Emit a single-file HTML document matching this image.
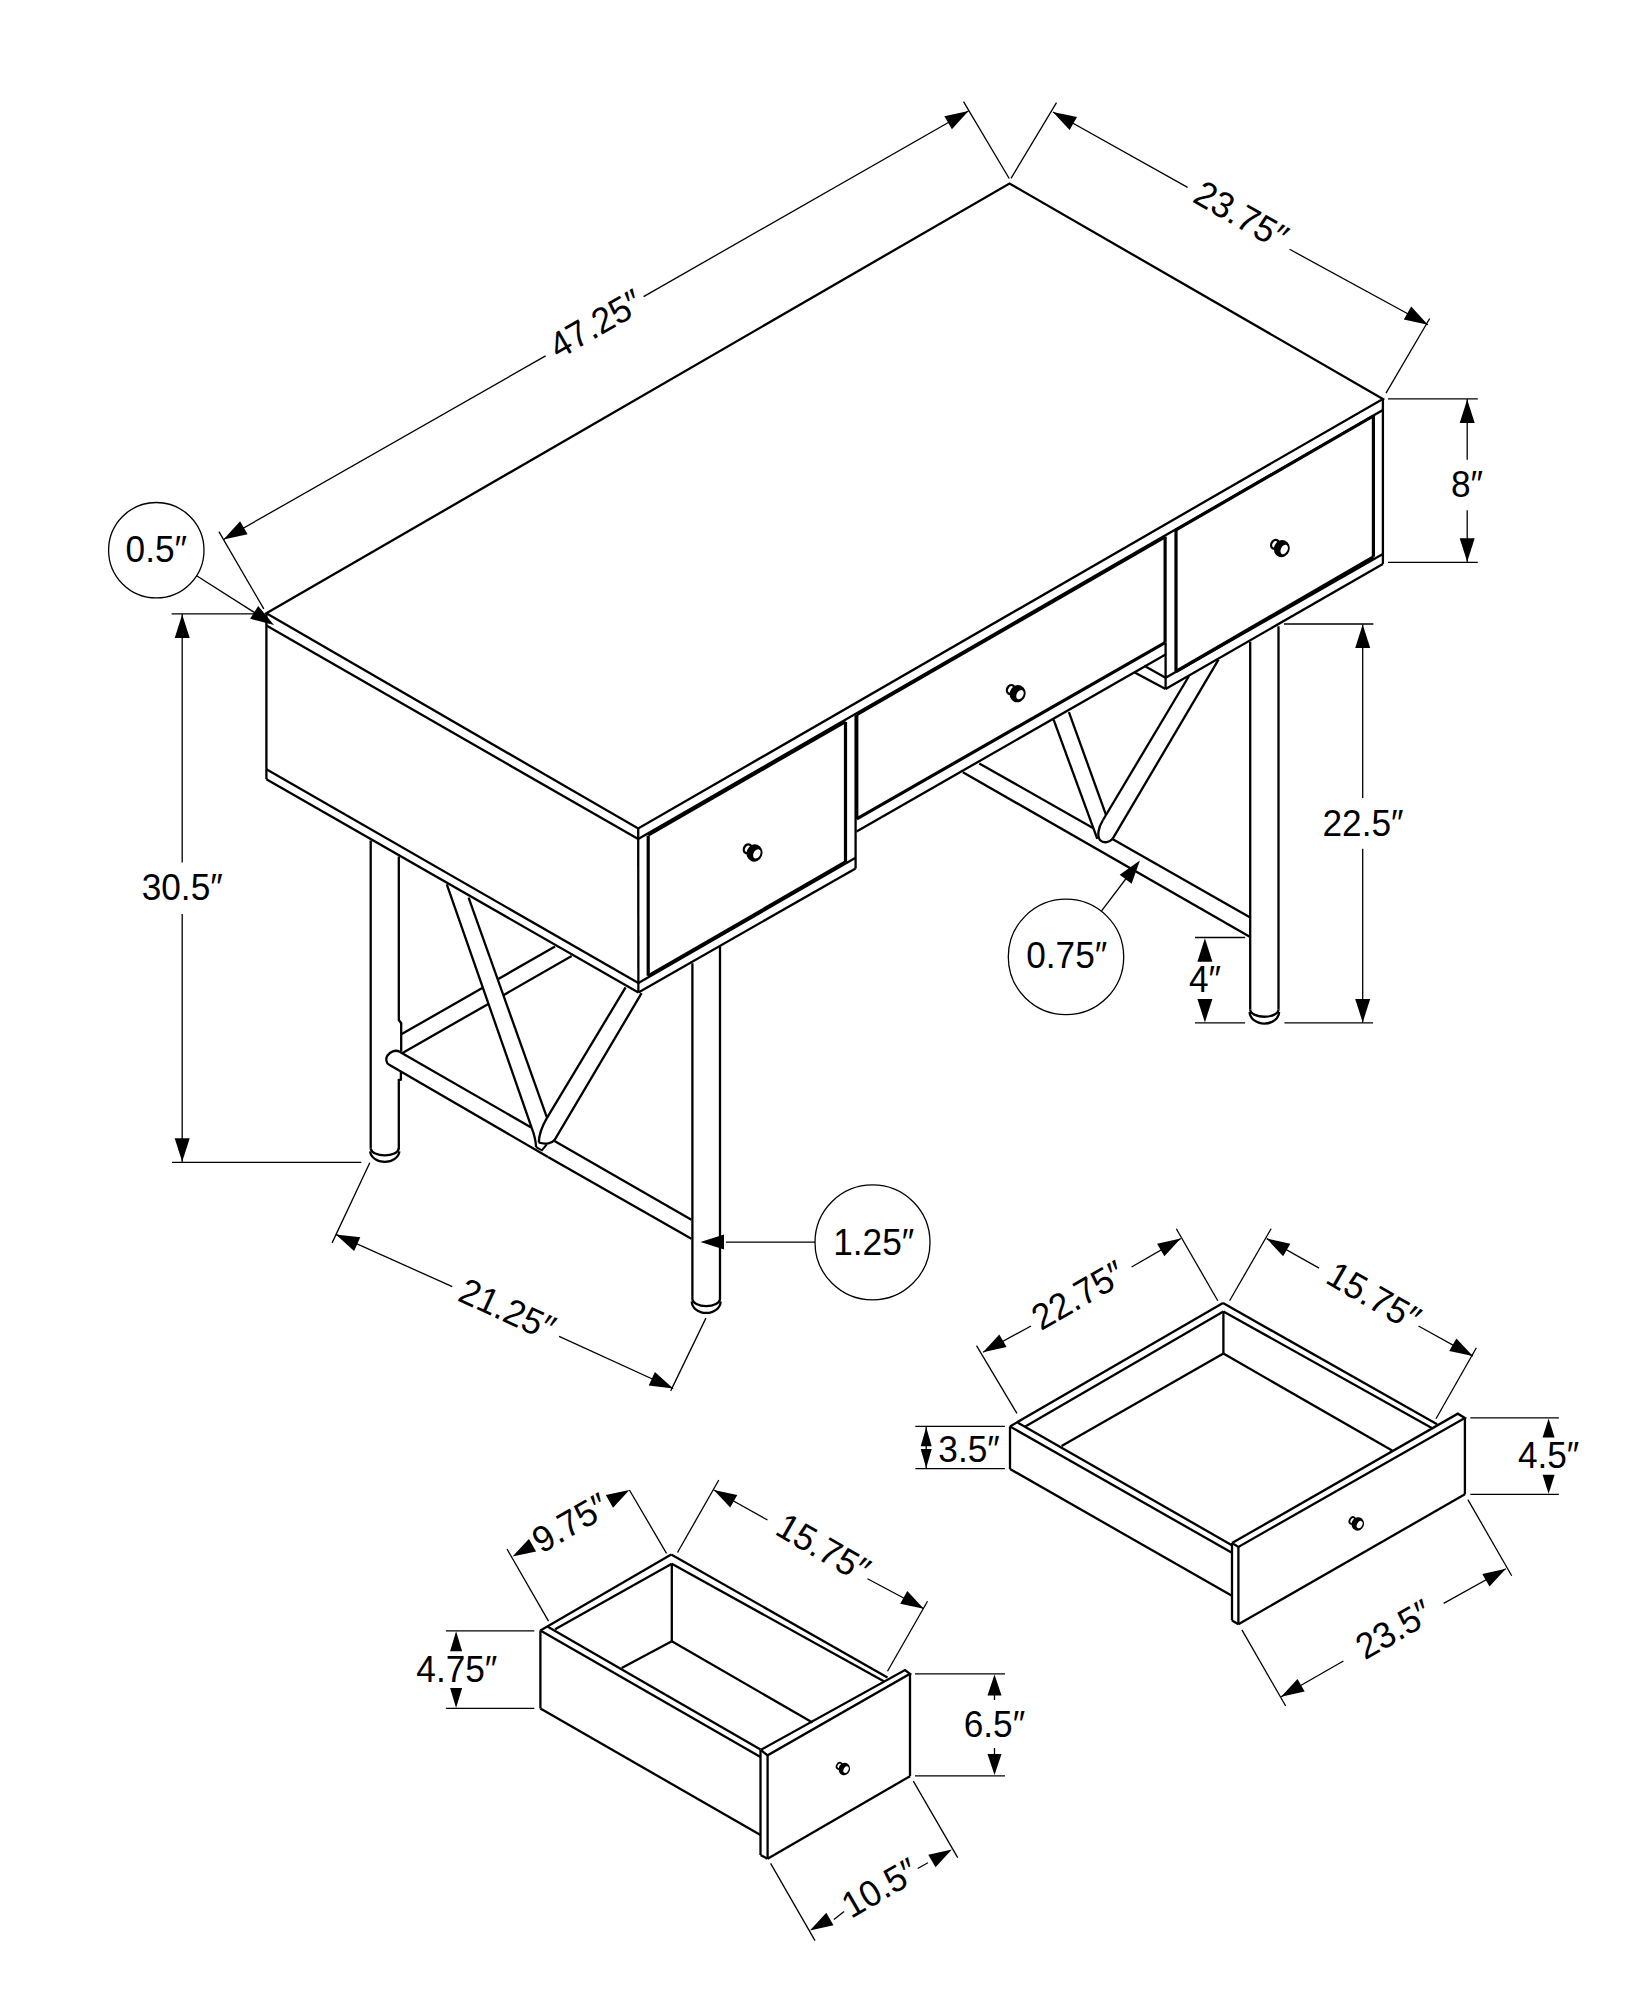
<!DOCTYPE html>
<html><head><meta charset="utf-8"><style>
html,body{margin:0;padding:0;background:#fff;}
svg{display:block;}
text{font-family:"Liberation Sans",sans-serif;fill:#000;stroke:none;}
</style></head><body>
<svg width="1648" height="2000" viewBox="0 0 1648 2000" stroke="#000" stroke-linecap="butt" stroke-linejoin="miter">
<rect width="1648" height="2000" fill="#fff" stroke="none"/>
<polygon points="266.4,613.3 1009.5,183.5 1382.9,398.9 638.2,828.5" stroke-width="2.3" fill="none"/>
<line x1="266.4" y1="613.3" x2="266.4" y2="779.2" stroke-width="2.3"/>
<line x1="266.4" y1="625.5" x2="638.2" y2="839.1" stroke-width="2.3"/>
<line x1="638.2" y1="828.5" x2="638.4" y2="992.5" stroke-width="2.3"/>
<line x1="638.2" y1="839.1" x2="1382.9" y2="410.0" stroke-width="2.3"/>
<line x1="1382.9" y1="398.9" x2="1382.9" y2="563.9" stroke-width="2.3"/>
<line x1="266.4" y1="769.2" x2="638.4" y2="983.0" stroke-width="2.3"/>
<line x1="266.4" y1="779.2" x2="638.4" y2="992.5" stroke-width="2.3"/>
<line x1="638.4" y1="983.0" x2="855.6" y2="857.8" stroke-width="2.3"/>
<line x1="638.4" y1="992.5" x2="855.6" y2="868.5" stroke-width="2.3"/>
<line x1="648.2" y1="835.6" x2="648.2" y2="975.8" stroke-width="3.2"/>
<line x1="648.2" y1="975.8" x2="845.5" y2="862.0" stroke-width="3.2"/>
<line x1="845.5" y1="722.0" x2="845.5" y2="862.0" stroke-width="3.2"/>
<line x1="648.2" y1="835.0" x2="845.5" y2="721.5" stroke-width="3.2"/>
<line x1="855.6" y1="715.6" x2="855.6" y2="868.5" stroke-width="2.3"/>
<line x1="856.8" y1="714.7" x2="856.8" y2="818.8" stroke-width="3.2"/>
<line x1="856.8" y1="818.8" x2="1165.1" y2="642.6" stroke-width="3.2"/>
<line x1="1165.1" y1="536.6" x2="1165.1" y2="642.6" stroke-width="3.2"/>
<line x1="856.8" y1="714.7" x2="1165.1" y2="537.0" stroke-width="3.0"/>
<line x1="856.6" y1="831.5" x2="1165.6" y2="654.4" stroke-width="2.3"/>
<line x1="1134.7" y1="672.5" x2="1165.6" y2="689.1" stroke-width="2.3"/>
<line x1="1144.2" y1="665.8" x2="1165.6" y2="677.7" stroke-width="2.3"/>
<line x1="1165.6" y1="642.6" x2="1165.6" y2="689.1" stroke-width="2.3"/>
<line x1="1176.0" y1="530.0" x2="1176.0" y2="671.5" stroke-width="3.2"/>
<line x1="1176.0" y1="671.5" x2="1373.4" y2="556.8" stroke-width="3.2"/>
<line x1="1373.4" y1="416.0" x2="1373.4" y2="556.8" stroke-width="3.2"/>
<line x1="1176.0" y1="530.0" x2="1373.4" y2="416.0" stroke-width="3.0"/>
<line x1="1165.6" y1="677.7" x2="1382.9" y2="554.1" stroke-width="2.3"/>
<line x1="1165.6" y1="689.1" x2="1382.9" y2="563.9" stroke-width="2.3"/>
<g transform="translate(754.5 853.0) scale(1.0)"><ellipse cx="-6.9" cy="-4.3" rx="3.5" ry="4.6" transform="rotate(30 -6.9 -4.3)" stroke-width="2.3" fill="#fff"/><ellipse cx="0" cy="0" rx="7.9" ry="8.7" transform="rotate(20)" stroke="none" fill="#000"/><ellipse cx="2.4" cy="0.9" rx="3.3" ry="5.0" transform="rotate(28 2.4 0.9)" stroke="none" fill="#fff"/></g>
<g transform="translate(1017.6 693.7) scale(1.0)"><ellipse cx="-6.9" cy="-4.3" rx="3.5" ry="4.6" transform="rotate(30 -6.9 -4.3)" stroke-width="2.3" fill="#fff"/><ellipse cx="0" cy="0" rx="7.9" ry="8.7" transform="rotate(20)" stroke="none" fill="#000"/><ellipse cx="2.4" cy="0.9" rx="3.3" ry="5.0" transform="rotate(28 2.4 0.9)" stroke="none" fill="#fff"/></g>
<g transform="translate(1281.8 548.6) scale(1.0)"><ellipse cx="-6.9" cy="-4.3" rx="3.5" ry="4.6" transform="rotate(30 -6.9 -4.3)" stroke-width="2.3" fill="#fff"/><ellipse cx="0" cy="0" rx="7.9" ry="8.7" transform="rotate(20)" stroke="none" fill="#000"/><ellipse cx="2.4" cy="0.9" rx="3.3" ry="5.0" transform="rotate(28 2.4 0.9)" stroke="none" fill="#fff"/></g>
<line x1="370.7" y1="840.4" x2="370.7" y2="1148.8" stroke-width="2.3"/>
<polyline points="398.8,1148.0 398.8,1148.8" stroke-width="2.3" fill="none"/>
<path d="M370.7,1148.8 A14.1,7.2 0 0 0 398.8,1148.8" stroke-width="2.3" fill="none"/>
<path d="M370.1,1151.3 A14.7,11.5 0 0 0 399.4,1151.3" stroke-width="2.3" fill="none"/>
<polyline points="398.8,856.4 398.8,1020.0 401.2,1023.2 401.2,1051.6" stroke-width="2.3" fill="none"/>
<polyline points="400.9,1071.0 400.9,1079.6 398.8,1080.0 398.8,1148.8" stroke-width="2.3" fill="none"/>
<line x1="692.4" y1="963.3" x2="692.4" y2="1298.9" stroke-width="2.3"/>
<line x1="720.0" y1="946.6" x2="720.0" y2="1298.9" stroke-width="2.3"/>
<path d="M692.4,1298.9 A13.8,7.2 0 0 0 720.0,1298.9" stroke-width="2.3" fill="none"/>
<path d="M691.8,1301.4 A14.4,11.5 0 0 0 720.6,1301.4" stroke-width="2.3" fill="none"/>
<line x1="1250.2" y1="641.7" x2="1250.2" y2="1009.5" stroke-width="2.3"/>
<line x1="1278.5" y1="626.2" x2="1278.5" y2="1009.5" stroke-width="2.3"/>
<path d="M1250.2,1009.5 A14.1,7.2 0 0 0 1278.5,1009.5" stroke-width="2.3" fill="none"/>
<path d="M1249.6,1012.0 A14.7,11.5 0 0 0 1279.1,1012.0" stroke-width="2.3" fill="none"/>
<line x1="401.3" y1="1034.3" x2="482.7" y2="987.8" stroke-width="2.3"/>
<line x1="497.4" y1="979.5" x2="555.0" y2="946.6" stroke-width="2.3"/>
<line x1="402.5" y1="1053.1" x2="488.3" y2="1003.9" stroke-width="2.3"/>
<line x1="503.0" y1="995.4" x2="571.7" y2="956.0" stroke-width="2.3"/>
<line x1="400.0" y1="1051.9" x2="531.2" y2="1127.5" stroke-width="2.3"/>
<line x1="554.5" y1="1140.9" x2="691.4" y2="1219.8" stroke-width="2.3"/>
<path d="M400,1051.9 C395,1049 390,1052 387.5,1055.5 C385.5,1058.5 386,1063 389.2,1064.8 L548,1157" stroke-width="2.3" fill="none"/>
<line x1="548.0" y1="1157.0" x2="691.4" y2="1238.8" stroke-width="2.3"/>
<path d="M446.8,884.3 L531.7,1127.8 Q535.6,1138 536.1,1147.1" stroke-width="2.3" fill="none"/>
<line x1="468.6" y1="897.7" x2="546.7" y2="1116.8" stroke-width="2.3"/>
<path d="M625.6,987.4 L546.7,1118.3 C541.6,1127 539,1134 538.8,1142.5" stroke-width="2.3" fill="none"/>
<path d="M641.6,993.2 L554.7,1139.8 C552.2,1143.2 545.5,1144.8 538.8,1142.5" stroke-width="2.3" fill="none"/>
<polyline points="536.1,1147.1 541.9,1150.3 546.7,1144.5" stroke-width="2.0" fill="none"/>
<line x1="979.3" y1="763.4" x2="1093.4" y2="828.3" stroke-width="2.3"/>
<line x1="1112.4" y1="839.1" x2="1250.2" y2="917.4" stroke-width="2.3"/>
<line x1="962.9" y1="772.2" x2="1250.2" y2="937.1" stroke-width="2.3"/>
<line x1="1053.6" y1="719.7" x2="1097.3" y2="838.8" stroke-width="2.3"/>
<line x1="1068.9" y1="712.1" x2="1106.0" y2="814.8" stroke-width="2.3"/>
<line x1="1189.0" y1="676.0" x2="1103.0" y2="820.0" stroke-width="2.3"/>
<line x1="1218.5" y1="659.7" x2="1112.6" y2="838.8" stroke-width="2.3"/>
<path d="M1103.0,820.0 C1098,828 1097,836 1100,840 C1104,844 1110,842 1112.6,838.8" stroke-width="2.3" fill="none"/>
<line x1="218.9" y1="531.7" x2="263.8" y2="608.9" stroke-width="1.3"/>
<line x1="963.5" y1="101.7" x2="1009.2" y2="178.5" stroke-width="1.3"/>
<line x1="223.5" y1="539.5" x2="545.6" y2="355.9" stroke-width="1.3"/>
<line x1="643.6" y1="296.6" x2="968.5" y2="111.0" stroke-width="1.3"/>
<polygon points="223.5,539.5 247.6,534.3 240.1,521.3" fill="#000" stroke="none"/>
<polygon points="968.5,111.0 944.4,116.2 951.9,129.2" fill="#000" stroke="none"/>
<text x="0" y="13.0" font-size="36.5" text-anchor="middle" transform="translate(595.5 323.5) rotate(-29.90) scale(0.965 1)">47.25″</text>
<line x1="1011.0" y1="178.3" x2="1056.5" y2="102.6" stroke-width="1.3"/>
<line x1="1386.0" y1="393.1" x2="1429.7" y2="318.5" stroke-width="1.3"/>
<line x1="1052.9" y1="112.0" x2="1187.6" y2="187.4" stroke-width="1.3"/>
<line x1="1289.6" y1="249.3" x2="1427.9" y2="324.7" stroke-width="1.3"/>
<polygon points="1052.9,112.0 1069.6,130.1 1077.0,117.1" fill="#000" stroke="none"/>
<polygon points="1427.9,324.7 1411.2,306.6 1403.8,319.6" fill="#000" stroke="none"/>
<text x="0" y="13.0" font-size="36.5" text-anchor="middle" transform="translate(1241.4 214.7) rotate(29.90) scale(0.965 1)">23.75″</text>
<line x1="1388.0" y1="398.9" x2="1477.8" y2="398.9" stroke-width="1.3"/>
<line x1="1388.0" y1="562.4" x2="1477.8" y2="562.4" stroke-width="1.3"/>
<line x1="1467.2" y1="399.0" x2="1467.2" y2="459.8" stroke-width="1.3"/>
<line x1="1467.2" y1="510.2" x2="1467.2" y2="562.0" stroke-width="1.3"/>
<polygon points="1467.2,399.5 1459.7,423.0 1474.7,423.0" fill="#000" stroke="none"/>
<polygon points="1467.2,561.8 1474.7,538.3 1459.7,538.3" fill="#000" stroke="none"/>
<text x="0" y="13.0" font-size="36.5" text-anchor="middle" transform="translate(1467.0 483.7) rotate(0.00) scale(0.965 1)">8″</text>
<line x1="171.6" y1="613.8" x2="255.3" y2="613.8" stroke-width="1.3"/>
<line x1="172.0" y1="1162.3" x2="361.3" y2="1162.3" stroke-width="1.3"/>
<line x1="182.2" y1="614.0" x2="182.2" y2="862.6" stroke-width="1.3"/>
<line x1="182.2" y1="913.9" x2="182.2" y2="1162.0" stroke-width="1.3"/>
<polygon points="182.2,614.5 174.7,638.0 189.7,638.0" fill="#000" stroke="none"/>
<polygon points="182.2,1161.8 189.7,1138.3 174.7,1138.3" fill="#000" stroke="none"/>
<text x="0" y="13.0" font-size="36.5" text-anchor="middle" transform="translate(182.2 887.0) rotate(0.00) scale(0.965 1)">30.5″</text>
<line x1="1284.0" y1="624.0" x2="1373.3" y2="624.0" stroke-width="1.3"/>
<line x1="1284.5" y1="1022.9" x2="1373.0" y2="1022.9" stroke-width="1.3"/>
<line x1="1362.7" y1="624.5" x2="1362.7" y2="797.9" stroke-width="1.3"/>
<line x1="1362.7" y1="848.7" x2="1362.7" y2="1022.4" stroke-width="1.3"/>
<polygon points="1362.7,624.5 1355.2,648.0 1370.2,648.0" fill="#000" stroke="none"/>
<polygon points="1362.7,1022.4 1370.2,998.9 1355.2,998.9" fill="#000" stroke="none"/>
<text x="0" y="13.0" font-size="36.5" text-anchor="middle" transform="translate(1363.0 822.5) rotate(0.00) scale(0.965 1)">22.5″</text>
<line x1="1195.0" y1="937.5" x2="1245.1" y2="937.5" stroke-width="1.3"/>
<line x1="1195.0" y1="1022.9" x2="1245.1" y2="1022.9" stroke-width="1.3"/>
<polygon points="1204.9,938.2 1197.4,961.7 1212.4,961.7" fill="#000" stroke="none"/>
<polygon points="1204.9,1022.4 1212.4,998.9 1197.4,998.9" fill="#000" stroke="none"/>
<text x="0" y="13.0" font-size="36.5" text-anchor="middle" transform="translate(1204.9 978.8) rotate(0.00) scale(0.965 1)">4″</text>
<circle cx="156.3" cy="550.2" r="47.7" stroke-width="1.3" fill="none"/>
<text x="0" y="13.0" font-size="36.5" text-anchor="middle" transform="translate(156.3 548.8) rotate(0.00) scale(0.965 1)">0.5″</text>
<line x1="196.6" y1="575.8" x2="255.0" y2="612.9" stroke-width="1.3"/>
<polygon points="274.0,625.0 258.2,606.1 250.1,618.7" fill="#000" stroke="none"/>
<circle cx="1066.0" cy="956.9" r="57.7" stroke-width="1.3" fill="none"/>
<text x="0" y="13.0" font-size="36.5" text-anchor="middle" transform="translate(1066.7 955.1) rotate(0.00) scale(0.965 1)">0.75″</text>
<line x1="1101.6" y1="910.9" x2="1128.0" y2="876.0" stroke-width="1.3"/>
<polygon points="1139.9,860.6 1119.7,874.8 1131.6,883.8" fill="#000" stroke="none"/>
<circle cx="872.5" cy="1242.4" r="57.5" stroke-width="1.3" fill="none"/>
<text x="0" y="13.0" font-size="36.5" text-anchor="middle" transform="translate(873.7 1241.7) rotate(0.00) scale(0.965 1)">1.25″</text>
<line x1="725.9" y1="1242.1" x2="815.2" y2="1242.1" stroke-width="1.3"/>
<polygon points="700.5,1242.1 724.0,1249.6 724.0,1234.6" fill="#000" stroke="none"/>
<line x1="369.8" y1="1162.8" x2="332.1" y2="1242.9" stroke-width="1.3"/>
<line x1="705.9" y1="1318.1" x2="670.7" y2="1390.9" stroke-width="1.3"/>
<line x1="335.8" y1="1234.4" x2="452.3" y2="1286.6" stroke-width="1.3"/>
<line x1="559.1" y1="1336.3" x2="673.2" y2="1388.5" stroke-width="1.3"/>
<polygon points="335.8,1234.4 354.1,1251.0 360.3,1237.3" fill="#000" stroke="none"/>
<polygon points="673.2,1388.5 654.9,1371.9 648.7,1385.6" fill="#000" stroke="none"/>
<text x="0" y="13.0" font-size="36.5" text-anchor="middle" transform="translate(507.5 1309.0) rotate(24.60) scale(0.965 1)">21.25″</text>
<line x1="1010.0" y1="1426.4" x2="1223.0" y2="1303.1" stroke-width="2.3"/>
<line x1="1024.9" y1="1426.7" x2="1223.4" y2="1311.4" stroke-width="2.3"/>
<line x1="1223.4" y1="1311.4" x2="1223.4" y2="1353.5" stroke-width="2.3"/>
<line x1="1061.6" y1="1446.1" x2="1223.4" y2="1353.5" stroke-width="2.3"/>
<line x1="1223.4" y1="1353.5" x2="1392.1" y2="1450.6" stroke-width="2.3"/>
<line x1="1223.0" y1="1303.1" x2="1437.1" y2="1424.2" stroke-width="2.3"/>
<line x1="1223.4" y1="1311.4" x2="1432.7" y2="1428.6" stroke-width="2.3"/>
<line x1="1010.0" y1="1426.4" x2="1010.0" y2="1469.0" stroke-width="2.3"/>
<line x1="1010.0" y1="1426.4" x2="1231.9" y2="1552.8" stroke-width="2.3"/>
<line x1="1017.9" y1="1422.8" x2="1231.9" y2="1545.2" stroke-width="2.3"/>
<line x1="1010.0" y1="1469.0" x2="1231.9" y2="1595.8" stroke-width="2.3"/>
<polyline points="1232.0,1543.1 1457.8,1413.7 1464.9,1417.9 1238.4,1546.9 1232.0,1543.1" stroke-width="2.3" fill="none"/>
<line x1="1232.0" y1="1543.1" x2="1232.0" y2="1620.4" stroke-width="2.3"/>
<line x1="1238.4" y1="1546.9" x2="1238.4" y2="1624.3" stroke-width="2.3"/>
<line x1="1232.0" y1="1620.4" x2="1238.4" y2="1624.3" stroke-width="2.3"/>
<line x1="1238.4" y1="1624.3" x2="1464.9" y2="1494.3" stroke-width="2.3"/>
<line x1="1464.9" y1="1417.9" x2="1464.9" y2="1494.3" stroke-width="2.3"/>
<g transform="translate(1357.8 1523.9) scale(0.78)"><ellipse cx="-6.9" cy="-4.3" rx="3.5" ry="4.6" transform="rotate(30 -6.9 -4.3)" stroke-width="2.3" fill="#fff"/><ellipse cx="0" cy="0" rx="7.9" ry="8.7" transform="rotate(20)" stroke="none" fill="#000"/><ellipse cx="2.4" cy="0.9" rx="3.3" ry="5.0" transform="rotate(28 2.4 0.9)" stroke="none" fill="#fff"/></g>
<line x1="976.5" y1="1345.6" x2="1016.9" y2="1413.3" stroke-width="1.3"/>
<line x1="1176.3" y1="1228.7" x2="1217.8" y2="1300.8" stroke-width="1.3"/>
<line x1="983.0" y1="1352.2" x2="1031.0" y2="1326.0" stroke-width="1.3"/>
<line x1="1131.6" y1="1267.0" x2="1180.7" y2="1238.6" stroke-width="1.3"/>
<polygon points="983.0,1352.2 1006.6,1347.0 999.3,1334.5" fill="#000" stroke="none"/>
<polygon points="1180.7,1238.6 1157.1,1243.8 1164.4,1256.3" fill="#000" stroke="none"/>
<text x="0" y="13.0" font-size="36.5" text-anchor="middle" transform="translate(1078.0 1294.8) rotate(-30.00) scale(0.965 1)">22.75″</text>
<line x1="1271.1" y1="1228.7" x2="1229.6" y2="1300.8" stroke-width="1.3"/>
<line x1="1476.4" y1="1347.8" x2="1436.0" y2="1418.8" stroke-width="1.3"/>
<line x1="1266.7" y1="1238.6" x2="1319.1" y2="1268.1" stroke-width="1.3"/>
<line x1="1418.5" y1="1326.0" x2="1472.8" y2="1356.1" stroke-width="1.3"/>
<polygon points="1266.7,1238.6 1283.1,1256.3 1290.3,1243.7" fill="#000" stroke="none"/>
<polygon points="1472.8,1356.1 1456.4,1338.4 1449.2,1351.0" fill="#000" stroke="none"/>
<text x="0" y="13.0" font-size="36.5" text-anchor="middle" transform="translate(1374.0 1296.0) rotate(30.00) scale(0.965 1)">15.75″</text>
<line x1="915.3" y1="1426.4" x2="1004.9" y2="1426.4" stroke-width="1.3"/>
<line x1="915.3" y1="1468.6" x2="1004.9" y2="1468.6" stroke-width="1.3"/>
<line x1="926.2" y1="1427.0" x2="926.2" y2="1468.0" stroke-width="1.3"/>
<polygon points="926.2,1427.3 920.7,1446.3 931.7,1446.3" fill="#000" stroke="none"/>
<polygon points="926.2,1468.0 931.7,1449.0 920.7,1449.0" fill="#000" stroke="none"/>
<text x="0" y="13.0" font-size="36.5" text-anchor="middle" transform="translate(969.0 1448.8) rotate(0.00) scale(0.965 1)">3.5″</text>
<line x1="1470.3" y1="1417.9" x2="1558.9" y2="1417.9" stroke-width="1.3"/>
<line x1="1470.3" y1="1494.4" x2="1558.9" y2="1494.4" stroke-width="1.3"/>
<polygon points="1548.6,1418.5 1542.6,1437.5 1554.6,1437.5" fill="#000" stroke="none"/>
<polygon points="1548.6,1493.8 1554.6,1474.8 1542.6,1474.8" fill="#000" stroke="none"/>
<text x="0" y="13.0" font-size="36.5" text-anchor="middle" transform="translate(1548.6 1454.6) rotate(0.00) scale(0.965 1)">4.5″</text>
<line x1="1241.9" y1="1629.9" x2="1285.7" y2="1706.0" stroke-width="1.3"/>
<line x1="1467.9" y1="1499.6" x2="1511.7" y2="1575.7" stroke-width="1.3"/>
<line x1="1281.1" y1="1696.7" x2="1343.4" y2="1661.0" stroke-width="1.3"/>
<line x1="1443.7" y1="1603.4" x2="1505.9" y2="1568.8" stroke-width="1.3"/>
<polygon points="1281.1,1696.7 1304.7,1691.6 1297.5,1679.0" fill="#000" stroke="none"/>
<polygon points="1505.9,1568.8 1482.3,1573.9 1489.5,1586.5" fill="#000" stroke="none"/>
<text x="0" y="13.0" font-size="36.5" text-anchor="middle" transform="translate(1393.5 1629.0) rotate(-30.00) scale(0.965 1)">23.5″</text>
<line x1="540.4" y1="1630.4" x2="671.2" y2="1554.5" stroke-width="2.3"/>
<line x1="555.1" y1="1629.3" x2="671.8" y2="1563.8" stroke-width="2.3"/>
<line x1="671.8" y1="1563.8" x2="671.8" y2="1641.2" stroke-width="2.3"/>
<line x1="621.7" y1="1668.0" x2="671.8" y2="1641.2" stroke-width="2.3"/>
<line x1="671.8" y1="1641.2" x2="812.5" y2="1722.5" stroke-width="2.3"/>
<line x1="671.2" y1="1554.5" x2="887.5" y2="1677.5" stroke-width="2.3"/>
<line x1="671.8" y1="1563.8" x2="883.8" y2="1681.2" stroke-width="2.3"/>
<line x1="540.4" y1="1630.4" x2="540.4" y2="1708.4" stroke-width="2.3"/>
<line x1="540.4" y1="1630.4" x2="760.5" y2="1757.1" stroke-width="2.3"/>
<line x1="547.8" y1="1626.8" x2="760.5" y2="1749.6" stroke-width="2.3"/>
<line x1="540.4" y1="1708.4" x2="760.5" y2="1835.1" stroke-width="2.3"/>
<polyline points="760.7,1750.0 905.0,1670.0 910.0,1673.8 767.6,1755.3 760.7,1750.0" stroke-width="2.3" fill="none"/>
<line x1="760.5" y1="1750.0" x2="760.5" y2="1855.0" stroke-width="2.3"/>
<line x1="767.6" y1="1755.3" x2="767.6" y2="1858.8" stroke-width="2.3"/>
<line x1="760.5" y1="1855.0" x2="767.6" y2="1858.8" stroke-width="2.3"/>
<line x1="767.6" y1="1858.8" x2="910.0" y2="1776.2" stroke-width="2.3"/>
<line x1="910.0" y1="1673.8" x2="910.0" y2="1776.2" stroke-width="2.3"/>
<g transform="translate(844.3 1769.0) scale(0.72)"><ellipse cx="-6.9" cy="-4.3" rx="3.5" ry="4.6" transform="rotate(30 -6.9 -4.3)" stroke-width="2.3" fill="#fff"/><ellipse cx="0" cy="0" rx="7.9" ry="8.7" transform="rotate(20)" stroke="none" fill="#000"/><ellipse cx="2.4" cy="0.9" rx="3.3" ry="5.0" transform="rotate(28 2.4 0.9)" stroke="none" fill="#fff"/></g>
<line x1="507.0" y1="1549.0" x2="548.5" y2="1621.1" stroke-width="1.3"/>
<line x1="629.4" y1="1490.0" x2="666.5" y2="1553.3" stroke-width="1.3"/>
<polygon points="512.5,1556.6 536.1,1551.5 528.9,1538.9" fill="#000" stroke="none"/>
<polygon points="629.4,1490.0 605.8,1495.1 613.0,1507.7" fill="#000" stroke="none"/>
<text x="0" y="13.0" font-size="36.5" text-anchor="middle" transform="translate(570.0 1522.5) rotate(-30.00) scale(0.965 1)">9.75″</text>
<line x1="718.8" y1="1480.0" x2="677.5" y2="1552.5" stroke-width="1.3"/>
<line x1="927.5" y1="1601.2" x2="887.5" y2="1671.2" stroke-width="1.3"/>
<line x1="713.8" y1="1490.0" x2="767.5" y2="1520.0" stroke-width="1.3"/>
<line x1="867.5" y1="1578.8" x2="923.8" y2="1608.8" stroke-width="1.3"/>
<polygon points="713.8,1490.0 730.2,1507.6 737.3,1495.0" fill="#000" stroke="none"/>
<polygon points="923.8,1608.8 907.3,1591.1 900.2,1603.7" fill="#000" stroke="none"/>
<text x="0" y="13.0" font-size="36.5" text-anchor="middle" transform="translate(823.5 1547.5) rotate(30.00) scale(0.965 1)">15.75″</text>
<line x1="445.9" y1="1630.9" x2="534.3" y2="1630.9" stroke-width="1.3"/>
<line x1="445.9" y1="1708.4" x2="534.3" y2="1708.4" stroke-width="1.3"/>
<polygon points="456.1,1631.2 450.1,1651.2 462.1,1651.2" fill="#000" stroke="none"/>
<polygon points="456.1,1708.0 462.1,1688.0 450.1,1688.0" fill="#000" stroke="none"/>
<text x="0" y="13.0" font-size="36.5" text-anchor="middle" transform="translate(456.8 1668.5) rotate(0.00) scale(0.965 1)">4.75″</text>
<line x1="915.0" y1="1673.8" x2="1005.0" y2="1673.8" stroke-width="1.3"/>
<line x1="915.0" y1="1775.8" x2="1005.0" y2="1775.8" stroke-width="1.3"/>
<polygon points="994.5,1674.5 987.5,1695.5 1001.5,1695.5" fill="#000" stroke="none"/>
<polygon points="994.5,1775.0 1001.5,1754.0 987.5,1754.0" fill="#000" stroke="none"/>
<line x1="994.5" y1="1690.0" x2="994.5" y2="1700.0" stroke-width="1.3"/>
<line x1="994.5" y1="1748.0" x2="994.5" y2="1760.0" stroke-width="1.3"/>
<text x="0" y="13.0" font-size="36.5" text-anchor="middle" transform="translate(994.4 1723.7) rotate(0.00) scale(0.965 1)">6.5″</text>
<line x1="770.6" y1="1863.4" x2="815.0" y2="1940.6" stroke-width="1.3"/>
<line x1="913.3" y1="1781.1" x2="957.7" y2="1857.6" stroke-width="1.3"/>
<line x1="833.9" y1="1919.5" x2="844.1" y2="1911.5" stroke-width="1.3"/>
<line x1="917.7" y1="1868.5" x2="927.9" y2="1862.7" stroke-width="1.3"/>
<polygon points="809.9,1930.4 833.5,1925.3 826.3,1912.7" fill="#000" stroke="none"/>
<polygon points="951.9,1849.6 928.3,1854.7 935.5,1867.3" fill="#000" stroke="none"/>
<text x="0" y="13.0" font-size="36.5" text-anchor="middle" transform="translate(879.5 1887.4) rotate(-30.00) scale(0.965 1)">10.5″</text>
</svg></body></html>
